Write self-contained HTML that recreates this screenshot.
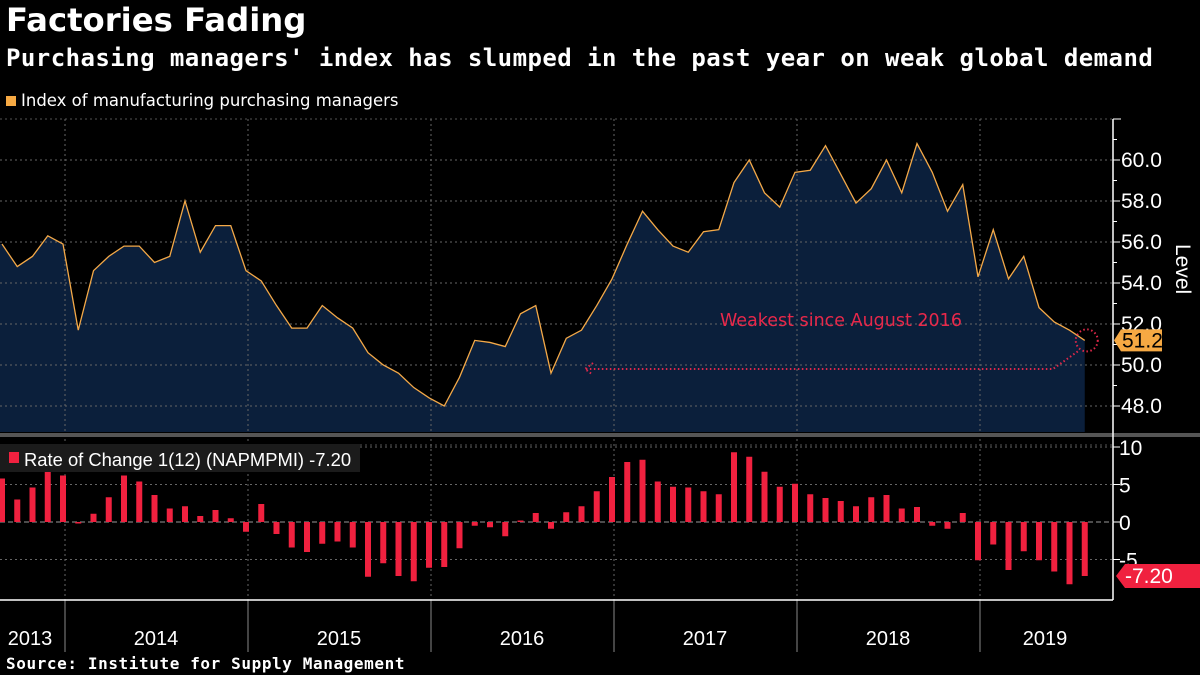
<!DOCTYPE html>
<html><head><meta charset="utf-8"><style>
html,body{margin:0;padding:0;background:#000;}
body{width:1200px;height:675px;overflow:hidden;position:relative;font-family:"Liberation Sans",sans-serif;color:#fff;}
.t{position:absolute;left:6px;white-space:nowrap;}
</style></head><body>
<div class="t" style="top:1px;font-size:32.3px;font-weight:bold;font-family:'DejaVu Sans',sans-serif;">Factories Fading</div>
<div class="t" style="top:44px;font-size:24px;font-weight:bold;font-family:'DejaVu Sans Mono','Liberation Mono',monospace;letter-spacing:0.45px;">Purchasing managers' index has slumped in the past year on weak global demand</div>
<svg id="ch" width="1200" height="675" style="position:absolute;left:0;top:0"></svg>
<script>
const years=["2013","2014","2015","2016","2017","2018","2019"];
const pmi=[55.9,54.8,55.3,56.3,55.9,51.7,54.6,55.3,55.8,55.8,55.0,55.3,58.0,55.5,56.8,56.8,54.6,54.1,52.9,51.8,51.8,52.9,52.3,51.8,50.6,50.0,49.6,48.9,48.4,48.0,49.4,51.2,51.1,50.9,52.5,52.9,49.6,51.3,51.7,52.9,54.2,55.9,57.5,56.6,55.8,55.5,56.5,56.6,58.9,60.0,58.4,57.7,59.4,59.5,60.7,59.3,57.9,58.6,60.0,58.4,60.8,59.4,57.5,58.8,54.3,56.6,54.2,55.3,52.8,52.1,51.7,51.2];
const roc=[5.8,3.0,4.6,7.5,6.2,-0.2,1.1,3.3,6.2,5.4,3.6,1.8,2.1,0.8,1.6,0.5,-1.3,2.4,-1.6,-3.4,-4.0,-2.9,-2.6,-3.4,-7.3,-5.5,-7.2,-7.9,-6.1,-6.0,-3.5,-0.5,-0.7,-1.9,0.2,1.2,-0.9,1.3,2.1,4.1,6.0,8.0,8.3,5.4,4.7,4.6,4.1,3.7,9.3,8.7,6.7,4.7,5.1,3.7,3.2,2.8,2.1,3.3,3.6,1.8,2.0,-0.5,-0.9,1.2,-5.1,-3.0,-6.4,-3.9,-5.1,-6.6,-8.3,-7.2];
const levelTicks=[48,50,52,54,56,58,60];
const rocTicks=[-5,0,5,10];
const yearLabelX=[30,156,339,522,705,888,1045];

const NS="http://www.w3.org/2000/svg";
const svg=document.getElementById('ch');
function el(t,a,p){const e=document.createElementNS(NS,t);for(const k in a)e.setAttribute(k,a[k]);(p||svg).appendChild(e);return e;}
const xOf=i=>2+i*15.25;
const yU=v=>160+(60-v)*20.5;
const yL=v=>522-v*7.5;
const AX=1113;
let e;
e=el('line',{x1:0,x2:AX,y1:119,y2:119,stroke:'#555','stroke-dasharray':'2,3'});


let d='M'+xOf(0)+','+yU(pmi[0]);pmi.forEach((v,i)=>d+=' L'+xOf(i)+','+yU(v));
let fd='M0,432 L0,'+yU(pmi[0])+' '+d.slice(1).replace(/^/,'L')+' L'+xOf(pmi.length-1)+',432 Z';
e=el('path',{d:fd,fill:'#0b1f3b'});


levelTicks.forEach(v=>{
 e=el('line',{x1:0,x2:AX,y1:yU(v),y2:yU(v),stroke:'#666','stroke-dasharray':'2,3','stroke-width':1});
 
 
 e=el('line',{x1:AX,x2:AX+7,y1:yU(v),y2:yU(v),stroke:'#fff'});
 
 
 e=el('line',{x1:AX,x2:AX+4,y1:yU(v+1),y2:yU(v+1),stroke:'#fff'});
 
 
 e=el('text',{x:AX+8,y:yU(v)+7,fill:'#fff','font-size':21,'font-family':'Liberation Sans'});e.textContent=v.toFixed(1);
 
 
});
for(let k=0;k<6;k++){const x=xOf(4+12*k)+2;
 e=el('line',{x1:x,x2:x,y1:119,y2:600,stroke:'#666','stroke-dasharray':'2,3'});
 
 
 e=el('line',{x1:x,x2:x,y1:600,y2:652,stroke:'#888'});
 
 
}
e=el('path',{d:d,fill:'none',stroke:'#f4a948','stroke-width':1.3});


const li=pmi.length-1;
e=el('circle',{cx:xOf(li)+2,cy:yU(pmi[li]),r:11,fill:'none',stroke:'#e0284a','stroke-width':2,'stroke-dasharray':'1.5,2.5'});


e=el('path',{d:'M'+(xOf(li)-7)+','+(yU(pmi[li])+11)+' L1053,369 L585,369 M593,363 L585,369 L593,375',fill:'none',stroke:'#e0284a','stroke-width':2,'stroke-dasharray':'1.5,2.5'});


e=el('text',{x:720,y:326,fill:'#e8284a','font-size':17.5,'font-family':'DejaVu Sans'});e.textContent='Weakest since August 2016';


const ty=yU(pmi[li]);
e=el('path',{d:`M${AX+1},${ty} L${AX+8},${ty-11} L1162,${ty-11} L1162,${ty+11} L${AX+8},${ty+11} Z`,fill:'#f6a943'});


e=el('text',{x:AX+9,y:ty+7,fill:'#000','font-size':21});e.textContent=pmi[li].toFixed(1);


e=el('text',{x:0,y:0,fill:'#fff','font-size':21,transform:'translate(1176,244) rotate(90)'});e.textContent='Level';


e=el('rect',{x:0,y:433,width:1200,height:4,fill:'#555'});


e=el('line',{x1:AX,x2:AX,y1:119,y2:600,stroke:'#fff','stroke-width':1.5});


e=el('line',{x1:AX,x2:AX+8,y1:119,y2:119,stroke:'#fff'});


rocTicks.forEach(v=>{
 e=el('line',{x1:0,x2:AX,y1:yL(v),y2:yL(v),stroke:v===0?'#999':'#666','stroke-dasharray':v===0?'5,3':'2,3'});
 
 
 e=el('line',{x1:AX,x2:AX+7,y1:yL(v),y2:yL(v),stroke:'#fff'});
 
 
 e=el('text',{x:AX+6,y:yL(v)+8,fill:'#fff','font-size':21});e.textContent=String(v);
 
 
});
e=el('line',{x1:0,x2:AX,y1:445,y2:445,stroke:'#555','stroke-dasharray':'2,3'});


roc.forEach((v,i)=>{
 const y0=yL(0),y1=yL(v);
 e=el('rect',{x:xOf(i)-3,y:Math.min(y0,y1),width:6,height:Math.abs(y1-y0),fill:'#f0213f'});
 
 
});
e=el('rect',{x:0,y:444,width:360,height:28,fill:'#1b1b1b'});


e=el('rect',{x:9,y:452,width:10,height:11,fill:'#f0213f'});


e=el('text',{x:24,y:466,fill:'#fff','font-size':18.4});e.textContent='Rate of Change 1(12) (NAPMPMI) -7.20';


const ry=yL(roc[li]);
e=el('path',{d:`M${AX+3},${ry} L${AX+12},${ry-12} L1200,${ry-12} L1200,${ry+12} L${AX+12},${ry+12} Z`,fill:'#f0213f'});


e=el('text',{x:AX+12,y:ry+7,fill:'#fff','font-size':21});e.textContent=roc[li].toFixed(2);


e=el('line',{x1:0,x2:AX,y1:600,y2:600,stroke:'#fff','stroke-width':1.5});


years.forEach((y,k)=>{
 e=el('text',{x:yearLabelX[k],y:645,fill:'#fff','font-size':20,'text-anchor':'middle'});e.textContent=y;
 
 
});
</script>
<div class="t" style="top:91px;font-size:16.5px;font-family:'DejaVu Sans',sans-serif;"><span style="display:inline-block;width:10px;height:10px;background:#f6a943;margin-right:5px;"></span>Index of manufacturing purchasing managers</div>
<div class="t" style="top:654px;font-size:16px;font-weight:bold;font-family:'DejaVu Sans Mono','Liberation Mono',monospace;letter-spacing:0.6px;">Source: Institute for Supply Management</div>
</body></html>
